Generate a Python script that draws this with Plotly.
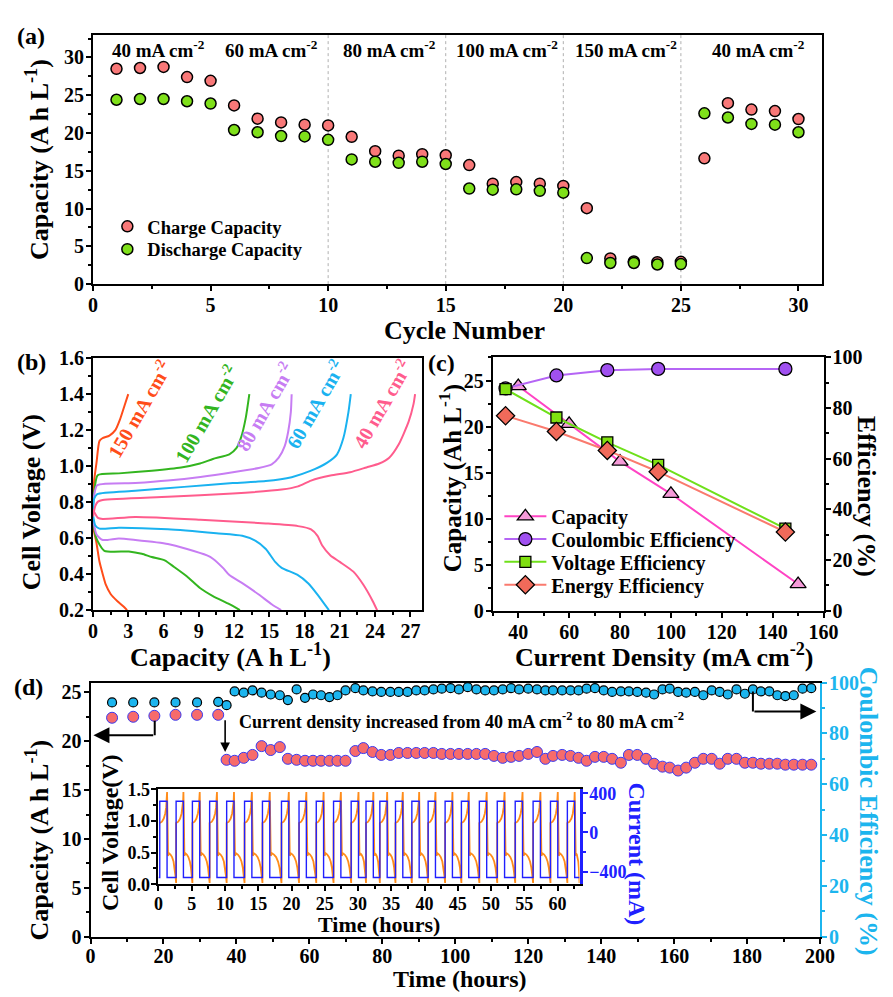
import plotly.graph_objects as go

W, H = 893, 997
FONT = "Liberation Serif"


def px(x):
    return x / W


def py(y):
    return 1 - y / H


# ---------------- (a) rate capability ----------------
cycle_no = list(range(1, 31))
charge_capacity = [28.5, 28.6, 28.75, 27.4, 26.9, 23.65, 21.9, 21.4, 21.1, 21.0,
                   19.5, 17.6, 17.0, 17.2, 17.05, 15.75, 13.3, 13.5, 13.3, 13.0,
                   10.05, 3.4, 3.0, 2.9, 2.95, 16.65, 23.95, 23.1, 22.9, 21.85]
discharge_capacity = [24.4, 24.5, 24.5, 24.2, 23.9, 20.4, 20.1, 19.6, 19.55, 19.1,
                      16.5, 16.2, 16.05, 16.2, 15.9, 12.65, 12.5, 12.55, 12.35, 12.1,
                      3.45, 2.8, 2.8, 2.6, 2.65, 22.6, 22.05, 21.2, 21.1, 20.1]
rate_labels = ["40 mA cm<sup>-2</sup>", "60 mA cm<sup>-2</sup>", "80 mA cm<sup>-2</sup>",
               "100 mA cm<sup>-2</sup>", "150 mA cm<sup>-2</sup>", "40 mA cm<sup>-2</sup>"]
rate_boundaries = [10, 15, 20, 25]

# ---------------- (b) charge / discharge curves ----------------
curve_labels = ["150 mA cm<sup>-2</sup>", "100 mA cm<sup>-2</sup>", "80 mA cm<sup>-2</sup>",
                "60 mA cm<sup>-2</sup>", "40 mA cm<sup>-2</sup>"]
q150_chg = [0, 0.1, 0.3, 0.55, 0.8, 1.4, 1.9, 2.3, 2.7, 3.0]
v150_chg = [0.80, 0.92, 1.02, 1.14, 1.155, 1.17, 1.20, 1.26, 1.34, 1.40]
q150_dis = [0, 0.05, 0.28, 0.55, 0.83, 1.1, 1.5, 2.08, 2.6, 2.9]
v150_dis = [0.72, 0.65, 0.58, 0.47, 0.40, 0.34, 0.29, 0.25, 0.22, 0.20]
q100_chg = [0, 0.15, 0.4, 2.2, 5.0, 7.5, 9.1, 10.2, 11.6, 12.2, 12.6, 13.0, 13.3]
v100_chg = [0.78, 0.88, 0.95, 0.96, 0.975, 0.993, 1.015, 1.04, 1.066, 1.10, 1.16, 1.27, 1.40]
q100_dis = [0, 0.28, 0.97, 3.05, 4.15, 5.0, 6.1, 6.9, 8.0, 9.1, 10.2, 11.6, 12.5]
v100_dis = [0.70, 0.60, 0.53, 0.526, 0.513, 0.495, 0.477, 0.44, 0.387, 0.323, 0.278, 0.233, 0.20]
q80_chg = [0, 0.1, 0.36, 3.6, 6.37, 9.14, 11.9, 14.1, 15.2, 15.8, 16.3, 16.6, 16.83, 16.9]
v80_chg = [0.76, 0.84, 0.894, 0.906, 0.92, 0.94, 0.966, 0.99, 1.01, 1.047, 1.11, 1.19, 1.30, 1.40]
q80_dis = [0, 0.3, 0.83, 2.2, 3.6, 6.37, 8.0, 9.7, 10.2, 11.1, 11.6, 12.7, 14.1, 15.2, 16.0]
v80_dis = [0.71, 0.62, 0.59, 0.598, 0.59, 0.568, 0.54, 0.504, 0.486, 0.432, 0.395, 0.35, 0.287, 0.233, 0.20]
q60_chg = [0, 0.1, 0.36, 3.6, 7.75, 11.9, 14.7, 16.9, 18.55, 19.93, 20.76, 21.3, 21.73, 21.93]
v60_chg = [0.75, 0.82, 0.845, 0.863, 0.885, 0.906, 0.917, 0.939, 0.975, 1.02, 1.066, 1.156, 1.30, 1.40]
q60_dis = [0, 0.2, 0.55, 2.2, 6.37, 10.5, 12.7, 13.8, 14.7, 15.5, 16.05, 17.4, 18.3, 19.1, 20.07]
v60_dis = [0.73, 0.67, 0.653, 0.658, 0.649, 0.627, 0.613, 0.586, 0.54, 0.468, 0.435, 0.396, 0.35, 0.287, 0.20]
q40_chg = [0, 0.2, 0.42, 0.83, 6.37, 11.9, 16.05, 17.44, 18.55, 20.2, 21.87, 23.26, 24.36, 25.2,
           26.0, 26.85, 27.27, 27.4]
v40_chg = [0.72, 0.78, 0.803, 0.812, 0.83, 0.848, 0.87, 0.888, 0.92, 0.948, 0.966, 0.993, 1.015,
           1.047, 1.12, 1.247, 1.346, 1.40]
q40_dis = [0, 0.42, 0.83, 3.6, 9.14, 14.7, 17.44, 18.55, 19.1, 19.5, 20.2, 21.0, 22.15, 23.0,
           23.8, 24.17]
v40_dis = [0.758, 0.713, 0.707, 0.718, 0.703, 0.682, 0.667, 0.649, 0.613, 0.559, 0.504, 0.468,
           0.414, 0.341, 0.25, 0.20]

# ---------------- (c) performance vs current density ----------------
cd_capacity = [40, 60, 80, 100, 150]
capacity_c = [24.4, 20.3, 16.2, 12.7, 2.9]
cd_eff = [35, 55, 75, 95, 145]
coulombic_eff = [87.8, 92.9, 95.0, 95.5, 95.5]
voltage_eff = [87.5, 76.3, 66.5, 57.6, 32.4]
energy_eff = [77.0, 70.8, 63.3, 54.9, 31.1]

# ---------------- (d) long-term cycling ----------------
time_h = [5.9, 11.7, 17.5, 23.3, 29.2, 35.0,
          37.3, 39.5, 42.0, 44.4, 46.9, 49.4, 51.9, 54.1, 56.5, 58.8, 61.0, 63.2, 65.5, 67.7,
          69.9, 72.6, 74.8, 77.3, 79.7, 82.2, 84.5, 86.9, 89.3, 91.6, 94.0,
          96.3, 98.7, 101.0, 103.4, 105.8, 108.2, 110.6, 113.0, 115.3, 117.5, 120.0, 122.4,
          124.7, 126.8, 129.3, 131.6, 133.8, 136.0, 138.3, 140.7, 143.0, 145.4, 147.6, 149.9,
          152.3, 154.5, 156.8, 158.8, 161.1, 163.3, 165.7, 168.0, 170.3, 172.5, 174.7, 177.1,
          179.4, 181.6, 183.8, 186.1, 188.3, 190.5, 192.8, 195.2, 197.6]
capacity_d = [22.4, 22.5, 22.6, 22.7, 22.7, 22.7,
              18.1, 18.0, 18.3, 18.6, 19.5, 19.1, 19.4, 18.2, 18.1, 18.0, 18.0, 18.0, 18.0, 18.0,
              18.0, 19.0, 19.3, 18.9, 18.6, 18.6, 18.8, 18.8, 18.8, 18.8, 18.8,
              18.7, 18.7, 18.7, 18.7, 18.7, 18.7, 18.5, 18.3, 18.4, 18.5, 18.7, 18.9,
              18.2, 18.5, 18.6, 18.5, 18.3, 18.0, 18.4, 18.4, 18.2, 17.8, 18.6, 18.6,
              18.2, 17.7, 17.4, 17.3, 17.0, 17.3, 17.8, 18.2, 18.2, 17.7, 18.2, 18.2,
              17.8, 17.8, 17.7, 17.7, 17.7, 17.6, 17.6, 17.6, 17.6]
coulombic_d = [92.2, 92.2, 92.2, 92.2, 92.2, 92.4,
               91.1, 96.5, 96.0, 96.9, 96.0, 95.3, 95.0, 93.1, 97.3, 94.0, 95.3, 95.0, 94.3, 95.0,
               96.9, 97.8, 96.9, 96.5, 96.3, 96.3, 96.3, 96.3, 96.9, 96.9, 97.3,
               97.6, 97.8, 97.3, 98.2, 97.3, 96.9, 96.9, 97.3, 97.8, 97.3, 97.6, 97.3,
               96.9, 96.9, 96.9, 96.9, 96.9, 97.6, 97.8, 96.9, 96.3, 96.5, 96.5, 96.3,
               96.0, 95.3, 97.3, 97.6, 96.3, 96.0, 96.3, 95.0, 96.9, 96.3, 95.3, 97.3,
               95.6, 97.3, 96.5, 96.5, 95.0, 94.7, 95.0, 97.6, 97.8]

# inset: cycle start times (h), charge step length (h), current levels (mA) and
# the shape of one charge / discharge voltage step
inset_cycle_start = [0.19, 2.65, 5.10, 7.69, 10.25, 12.94, 15.63, 18.49, 21.13, 23.72, 26.32,
                     28.97, 31.2, 33.28, 35.63, 38.09, 40.54, 43.09, 45.54, 48.24, 50.93,
                     53.63, 56.32, 58.93, 61.47]
inset_charge_hours = 1.1
inset_current_charge = 320
inset_current_discharge = -460
inset_chg_frac = [0, 0.3, 0.55, 0.75, 0.88, 0.96, 1.0]
inset_chg_volt = [0.97, 0.99, 1.04, 1.12, 1.22, 1.32, 1.46]
inset_dis_frac = [0, 0.12, 0.3, 0.5, 0.68, 0.82, 0.93, 1.0]
inset_dis_volt = [0.45, 0.49, 0.47, 0.43, 0.36, 0.26, 0.12, 0.02]
inset_end = 63.3

# ---------------- colours ----------------
C_CHG = "#F87878"
C_DIS = "#7FE01A"
C_B = ["#FF4D1A", "#33B51F", "#C77DF3", "#1AB2F0", "#FF5C8D"]
C_CAP = "#FF44C4"
C_CE = "#B565F5"
C_VE = "#6FE01A"
C_EE = "#FA7A6E"
C_RED_D = "#F76B6B"
C_CYAN = "#1CB5EE"
C_BLUE = "#2020FF"
C_ORANGE = "#FF8C1A"

fig = go.Figure()

# (a)
fig.add_trace(go.Scatter(x=cycle_no, y=charge_capacity, mode="markers", name="Charge Capacity",
                         marker=dict(size=11, color=C_CHG, line=dict(color="black", width=1.5)),
                         xaxis="x", yaxis="y", legend="legend"))
fig.add_trace(go.Scatter(x=cycle_no, y=discharge_capacity, mode="markers", name="Discharge Capacity",
                         marker=dict(size=11, color=C_DIS, line=dict(color="black", width=1.5)),
                         xaxis="x", yaxis="y", legend="legend2"))

# (b)
b_curves = [(q150_chg, v150_chg, q150_dis, v150_dis), (q100_chg, v100_chg, q100_dis, v100_dis),
            (q80_chg, v80_chg, q80_dis, v80_dis), (q60_chg, v60_chg, q60_dis, v60_dis),
            (q40_chg, v40_chg, q40_dis, v40_dis)]
for (qc, vc, qd, vd), col in zip(b_curves, C_B):
    for qq, vv in ((qc, vc), (qd, vd)):
        fig.add_trace(go.Scatter(x=qq, y=vv, mode="lines", line=dict(color=col, width=2, shape="spline",
                                                                      smoothing=0.6),
                                 showlegend=False, xaxis="x2", yaxis="y2"))

# (c)
fig.add_trace(go.Scatter(x=cd_capacity, y=capacity_c, mode="lines+markers", name="Capacity",
                         line=dict(color=C_CAP, width=2),
                         marker=dict(symbol="triangle-up", size=14, color="#F59AD8",
                                     line=dict(color="black", width=1.3)),
                         xaxis="x3", yaxis="y3", legend="legend3"))
fig.add_trace(go.Scatter(x=cd_eff, y=coulombic_eff, mode="lines+markers", name="Coulombic Efficiency",
                         line=dict(color=C_CE, width=2),
                         marker=dict(symbol="circle", size=13, color="#A050F0",
                                     line=dict(color="black", width=1.3)),
                         xaxis="x3", yaxis="y4", legend="legend4"))
fig.add_trace(go.Scatter(x=cd_eff, y=voltage_eff, mode="lines+markers", name="Voltage Efficiency",
                         line=dict(color=C_VE, width=2),
                         marker=dict(symbol="square", size=11, color="#80E010",
                                     line=dict(color="black", width=1.3)),
                         xaxis="x3", yaxis="y4", legend="legend5"))
fig.add_trace(go.Scatter(x=cd_eff, y=energy_eff, mode="lines+markers", name="Energy Efficiency",
                         line=dict(color=C_EE, width=2),
                         marker=dict(symbol="diamond", size=14, color="#F06A5A",
                                     line=dict(color="black", width=1.3)),
                         xaxis="x3", yaxis="y4", legend="legend6"))

# (d)
fig.add_trace(go.Scatter(x=time_h, y=coulombic_d, mode="markers", showlegend=False,
                         marker=dict(size=9, color=C_CYAN, line=dict(color="black", width=1.2)),
                         xaxis="x5", yaxis="y6"))
fig.add_trace(go.Scatter(x=time_h, y=capacity_d, mode="markers", showlegend=False,
                         marker=dict(size=11, color=C_RED_D, line=dict(color="#3A3AF0", width=1)),
                         xaxis="x5", yaxis="y5"))

# inset
v_t, v_v, i_t, i_v = [], [], [], []
for k, t0 in enumerate(inset_cycle_start):
    t1 = t0 + inset_charge_hours
    t2 = inset_cycle_start[k + 1] if k + 1 < len(inset_cycle_start) else inset_end
    t2 = min(t2, inset_end)
    for f, v in zip(inset_chg_frac, inset_chg_volt):
        v_t.append(t0 + f * inset_charge_hours)
        v_v.append(v)
    for f, v in zip(inset_dis_frac, inset_dis_volt):
        v_t.append(t1 + 0.15 + f * (t2 - t1 - 0.15))
        v_v.append(v)
    i_t += [t0, t0, t1, t1, t2]
    i_v += [inset_current_discharge, inset_current_charge, inset_current_charge,
            inset_current_discharge, inset_current_discharge]
i_t.insert(0, 0)
i_v.insert(0, inset_current_discharge)
fig.add_trace(go.Scatter(x=v_t, y=v_v, mode="lines", line=dict(color=C_ORANGE, width=1.8),
                         showlegend=False, xaxis="x7", yaxis="y7"))
fig.add_trace(go.Scatter(x=i_t, y=i_v, mode="lines", line=dict(color=C_BLUE, width=1.4),
                         showlegend=False, xaxis="x7", yaxis="y8"))

TF = dict(family=FONT, size=20, color="black", weight="bold")


def ax(domain, rng, dtick, anchor, mirror=True, color="black", tickfont=None, minor=None,
       side=None, overlaying=None, lw=2, fmt=None, standoff=-2):
    d = dict(domain=domain, range=rng, dtick=dtick, anchor=anchor, showgrid=False, zeroline=False,
             showline=True, linecolor=color, linewidth=lw, mirror=mirror, ticks="outside",
             tickcolor=color, tickwidth=2, ticklen=5, tickfont=tickfont or TF, tick0=0,
             ticklabelstandoff=standoff)
    if fmt:
        d["tickformat"] = fmt
    if minor is not None:
        d["minor"] = dict(ticks="outside", ticklen=3, tickwidth=1.5, tickcolor=color, dtick=minor,
                          showgrid=False)
    if side:
        d["side"] = side
    if overlaying:
        d.pop("domain")
        d["overlaying"] = overlaying
    return d


TFS = dict(family=FONT, size=18, color="black", weight="bold")


def leg(xpx, ypx, size, itemwidth=30):
    return dict(x=px(xpx), y=py(ypx), xanchor="left", yanchor="middle", bgcolor="rgba(0,0,0,0)",
                font=dict(family=FONT, size=size, color="black", weight="bold"),
                itemwidth=itemwidth, itemclick=False, itemdoubleclick=False, borderwidth=0)


layout = dict(
    width=W, height=H, margin=dict(l=0, r=0, t=0, b=0),
    paper_bgcolor="white", plot_bgcolor="white", showlegend=True,
    xaxis=ax([px(90), px(835.7)], [0, 31], 5, "y", minor=2.5, standoff=-3),
    yaxis=ax([py(279.3), py(24.3)], [0, 33], 5, "x", minor=2.5),
    xaxis2=ax([px(90), px(426.7)], [0, 28], 3, "y2", minor=1.5, standoff=-3),
    yaxis2=ax([py(612.7), py(355)], [0.2, 1.6], 0.2, "x2", minor=0.1, fmt=".1f"),
    xaxis3=ax([px(499), px(837.3)], [30, 160], 20, "y3", minor=10, standoff=-3),
    yaxis3=ax([py(613.3), py(354.3)], [0, 27.5], 5, "x3", mirror=False, minor=2.5),
    yaxis4=ax(None, [0, 100], 20, "x3", side="right", overlaying="y3", mirror=False, minor=10),
    xaxis5=ax([px(87.5), px(833.7)], [0, 200], 20, "y5", minor=10, standoff=-5),
    yaxis5=ax([py(946.7), py(686.7)], [0, 26], 5, "x5", mirror=False, minor=2.5),
    yaxis6=ax(None, [0, 100], 20, "x5", side="right", overlaying="y5", mirror=False, color=C_CYAN,
              tickfont=dict(family=FONT, size=20, color=C_CYAN, weight="bold"), minor=10),
    xaxis7=ax([px(157), px(587.7)], [0, 63.3], 5, "y7", tickfont=TFS, minor=2.5, standoff=-3),
    yaxis7=ax([py(893), py(796)], [0, 1.5], 0.5, "x7", mirror=False, tickfont=TFS, minor=0.25,
              fmt=".1f"),
    yaxis8=ax(None, [-530, 440], 400, "x7", side="right", overlaying="y7", mirror=False,
              color=C_BLUE, lw=3, tickfont=dict(family=FONT, size=18, color=C_BLUE, weight="bold"),
              minor=200),
    legend=leg(104.7, 220.7, 18.5),
    legend2=leg(104.7, 244, 18.5),
    legend3=leg(505.7, 516.7, 20, 42),
    legend4=leg(505.7, 540, 20, 42),
    legend5=leg(505.7, 563.3, 20, 42),
    legend6=leg(505.7, 586.7, 20, 42),
)
fig.update_layout(**layout)
fig.update_layout(yaxis8=dict(tickvals=[-400, 0, 400]))

shapes = []
for xb in rate_boundaries:
    shapes.append(dict(type="line", xref="x", yref="y domain", x0=xb, x1=xb, y0=0, y1=1,
                       line=dict(color="#B0B0B0", width=1, dash="dot"), layer="below"))
# elbow arrows in (d)
shapes.append(dict(type="line", xref="x5", yref="y5", x0=17.6, x1=17.6, y0=22.1, y1=20.6,
                   line=dict(color="black", width=2)))
shapes.append(dict(type="line", xref="x5", yref="y6", x0=181.6, x1=181.6, y0=96.5, y1=88.6,
                   line=dict(color="black", width=2)))
fig.update_layout(shapes=shapes)

ann = []


def txt(x, y, s, size, angle=0, color="black", xanchor="center", yanchor="middle"):
    ann.append(dict(x=px(x), y=py(y), xref="paper", yref="paper", text=s,
                    showarrow=False, textangle=angle, xanchor=xanchor, yanchor=yanchor,
                    font=dict(family=FONT, size=size, color=color, weight="bold")))


# panel letters
txt(27, 26, "(a)", 24)
txt(27, 359, "(b)", 24)
txt(447, 360, "(c)", 24)
txt(24, 691, "(d)", 24)

# (a) texts
for lab, xc in zip(rate_labels, [2.8, 7.6, 12.6, 17.6, 22.65, 28.3]):
    ann.append(dict(x=xc, y=31.1, xref="x", yref="y", text=lab, showarrow=False,
                    font=dict(family=FONT, size=19, color="black", weight="bold")))
txt(33, 152, "Capacity (A h L<sup>-1</sup>)", 26, angle=-90)
txt(470, 327, "Cycle Number", 26)

# (b) texts
for lab, col, (cx, cy) in zip(curve_labels, C_B, [(136.7, 406.7), (205, 411.7), (265, 405),
                                                  (316.7, 401.7), (385, 401.7)]):
    txt(cx, cy, lab, 20, angle=-60, color=col)
txt(28, 502, "Cell Voltage (V)", 26, angle=-90)
txt(231, 659, "Capacity (A h L<sup>-1</sup>)", 26)

# (c) texts
txt(456, 478, "Capacity (Ah L<sup>-1</sup>)", 25, angle=-90)
txt(882, 496, "Efficiency (%)", 26, angle=90)
txt(674, 659, "Current Density (mA cm<sup>-2</sup>)", 26)

# (d) texts
txt(33, 848, "Capacity (A h L<sup>-1</sup>)", 26, angle=-90)
txt(883, 818, "Coulombic Efficiency (%)", 26, angle=90, color=C_CYAN)
txt(465, 990, "Time (hours)", 24)
txt(237, 725, "Current density increased from 40 mA cm<sup>-2</sup> to 80 mA cm<sup>-2</sup>", 18,
    xanchor="left")
txt(108, 840, "Cell Voltage(V)", 24, angle=-90)
txt(383, 934, "Time (hours)", 22)
txt(646, 862, "Current (mA)", 24, angle=90, color=C_BLUE)

# arrows (d)
ann.append(dict(x=0.8, y=20.6, xref="x5", yref="y5", ax=17.6, ay=20.6, axref="x5", ayref="y5",
                text="", showarrow=True, arrowhead=2, arrowsize=1.6, arrowwidth=2, arrowcolor="black"))
ann.append(dict(x=199, y=88.6, xref="x5", yref="y6", ax=181.6, ay=88.6, axref="x5", ayref="y6",
                text="", showarrow=True, arrowhead=2, arrowsize=1.6, arrowwidth=2, arrowcolor="black"))
ann.append(dict(x=36.9, y=18.9, xref="x5", yref="y5", ax=36.9, ay=22.3, axref="x5", ayref="y5",
                text="", showarrow=True, arrowhead=2, arrowsize=1.2, arrowwidth=1.6, arrowcolor="black"))
fig.update_layout(annotations=ann)

fig.write_html("out.html", config={"displayModeBar": False},
               post_script="document.body.style.margin='0px';document.body.style.overflow='hidden';")
